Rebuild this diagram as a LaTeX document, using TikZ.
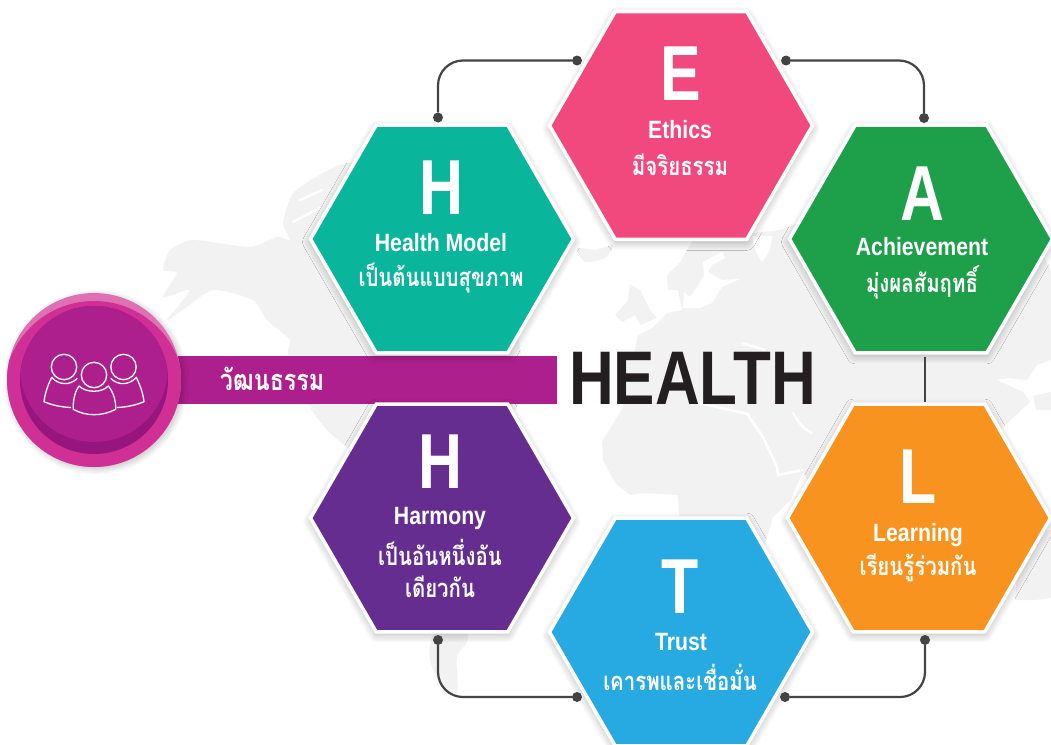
\documentclass[tikz,border=0pt]{standalone}
\usepackage{fontspec}
\setmainfont{Liberation Sans}[FakeStretch=0.85]
\newfontfamily\titlefont{Liberation Sans}[FakeStretch=0.815]
\newfontfamily\letterfont{Liberation Sans}[FakeStretch=0.78]
\newfontfamily\thaifont[Script=Thai,FakeStretch=0.8]{Loma}
\usetikzlibrary{shapes.geometric,shadows.blur}

\definecolor{mapgray}{HTML}{F2F2F2}
\definecolor{linkgray}{HTML}{434343}
\definecolor{badgerim}{HTML}{D02F95}
\definecolor{badgelight}{HTML}{E070B4}
\definecolor{badgedark}{HTML}{96167D}
\definecolor{badgetop}{HTML}{AD1F8C}
\definecolor{hexgreen}{HTML}{0AB69B}
\definecolor{hexpink}{HTML}{F1487D}
\definecolor{hexleaf}{HTML}{1EA04B}
\definecolor{hexorange}{HTML}{F7931E}
\definecolor{hexblue}{HTML}{27AAE1}
\definecolor{hexpurple}{HTML}{652D90}
\definecolor{inkblack}{HTML}{231F20}

\begin{document}
\begin{tikzpicture}[x=1pt,y=-1pt,
hexnode/.style={regular polygon, regular polygon sides=6, draw=white, line width=3.5pt, minimum size=263pt, inner sep=0pt,
  blur shadow={shadow xshift=0pt, shadow yshift=-3pt, shadow blur steps=16, shadow blur radius=8pt, shadow opacity=30}},
letternode/.style={text=white, font=\letterfont\fontsize{78}{78}\selectfont\bfseries},
wordnode/.style={text=white, font=\fontsize{25}{25}\selectfont\bfseries},
thainode/.style={text=white, font=\thaifont\fontsize{25.5}{25.5}\selectfont\bfseries},
dotnode/.style={circle, fill=linkgray, minimum size=10pt, inner sep=0pt},
linkline/.style={draw=linkgray, line width=2.2pt, rounded corners=25pt},
landpatch/.style={fill=mapgray, draw=none},
seapatch/.style={fill=white, draw=none},
sealine/.style={draw=white, line width=2.5pt, line cap=round},
iconline/.style={draw=white, line width=1.3pt, line join=round}
]
    \useasboundingbox (0,0) rectangle (1051,744);

    % world map behind everything
    \path[landpatch] plot[smooth cycle, tension=.35] coordinates {(170,250) (193,240) (250,247) (277,237) (290,240) (283,223) (293,193) (323,173) (350,163) (420,170) (500,240) (520,400) (420,500) (347,447) (327,430) (310,407) (288,356) (290,340) (267,320) (253,300) (213,290) (180,312) (167,320) (190,290) (163,297) (177,273) (163,270)};
    \draw[sealine] (300,200) -- (322,190);
    \draw[sealine] (293,222) -- (320,208);
    \path[landpatch] plot[smooth cycle, tension=.5] coordinates {(432,637) (430,660) (440,683) (457,693) (457,657) (468,637) (450,600)};
    \path[landpatch] plot[smooth cycle, tension=.4] coordinates {(577,248) (595,250) (613,245) (605,258) (585,262)};
    \path[landpatch] (630,284) -- (640,290) -- (650,310) -- (657,318) -- (640,325) -- (635,315) -- (622,322) -- (615,315) -- (628,300) -- cycle;
    \path[landpatch] (693,240) -- (780,230) -- (860,200) -- (990,160) -- (1051,270) -- (1051,360) -- (1037,365) -- (1027,380) -- (1008,378) -- (997,380) -- (1023,392) -- (1030,402) -- (1000,430) -- (1000,560) -- (850,560) -- (803,472) -- (790,500) -- (773,517) -- (760,560) -- (680,560) -- (679,515) -- (678,495) -- (643,493) -- (630,495) -- (615,483) -- (603,460) -- (602,442) -- (623,407) -- (625,360) -- (635,350) -- (638,335) -- (652,328) -- (667,313) -- (682,310) -- (678,290) -- (668,290) -- (667,275) -- (680,262) -- cycle;
    \path[landpatch] (1020,530) -- (1051,530) -- (1051,598) -- (1035,600) -- (1015,600) -- cycle;
    \path[landpatch] (1033,396) -- (1051,392) -- (1051,410) -- (1036,410) -- cycle;
    % seas
    \path[seapatch] (684,292) -- (690,297) -- (695,290) -- (704,275) -- (703,262) -- (722,252) -- (725,258) -- (712,265) -- (708,272) -- (722,280) -- (740,279) -- (722,287) -- (712,303) -- (700,308) -- (683,308) -- cycle;
    \path[seapatch] (752,236) -- (772,236) -- (770,250) -- (762,262) -- (756,252) -- cycle;
    \draw[sealine] (742,343) -- (765,350);
    \draw[sealine] (748,415) -- (763,437) -- (777,467) -- (778,475) -- (803,470);
    \draw[sealine] (793,413) .. controls (800,425) and (805,430) .. (812,433);
    \draw[sealine] (690,401) -- (735,411) -- (748,414);

    % banner and badge
    \node[fill=badgetop, minimum width=379pt, minimum height=47.5pt, inner sep=0pt] (banner) at (367.5,380){};
    \node[text=white, font=\thaifont\fontsize{29}{29}\selectfont\bfseries] (bannertext) at (272,379){วัฒนธรรม};
    \node[inkblack, font=\titlefont\fontsize{76}{76}\selectfont\bfseries] (title) at (692.5,378){HEALTH};

    \node[circle, fill=badgelight, minimum size=174pt, inner sep=0pt, blur shadow={shadow xshift=2pt, shadow yshift=-2pt, shadow blur steps=12, shadow blur radius=6pt, shadow opacity=25}] (badge) at (94,380){};
    \begin{scope}
        \clip (badge.center) circle (87);
        \fill[badgerim] (94,391) circle (90);
    \end{scope}
    \node[circle, fill=badgedark, minimum size=148pt, inner sep=0pt] (badgeinner) at (94,380){};
    \begin{scope}
        \clip (badgeinner.center) circle (74);
        \fill[badgetop] (94,368) circle (74);
    \end{scope}

    % people icon
    \draw[iconline] (77.3,378.3) .. controls (70,386) and (58,385) .. (51.7,377.3) .. controls (48,385) and (45,393) .. (44,401.7) .. controls (52,405) and (60,407) .. (71,407.5);
    \draw[iconline] (110.7,378.3) .. controls (118,386) and (130,385) .. (136.3,377.3) .. controls (140,385) and (143,393) .. (144,401.7) .. controls (136,405) and (128,407) .. (117,407.5);
    \draw[iconline] (64,367) circle (12.7);
    \draw[iconline] (123.5,367) circle (12.7);
    \draw[iconline, fill=badgetop] (79,386) .. controls (74,393) and (73,402) .. (73.3,409.3) .. controls (86,416.5) and (102,416.5) .. (115.7,409.3) .. controls (116,402) and (114,393) .. (108.3,386) .. controls (102,393) and (86,393) .. (79,386) -- cycle;
    \draw[iconline, fill=badgetop] (94,375) circle (12.7);

    % hexagons
    \node[hexnode, fill=hexpink] (ethics) at (681,125.5){};
    \node[hexnode, fill=hexgreen] (healthmodel) at (442,239){};
    \node[hexnode, fill=hexleaf] (achieve) at (921,239){};
    \node[hexnode, fill=hexpurple] (harmony) at (442,518){};
    \node[hexnode, fill=hexorange] (learning) at (919,518){};
    \node[hexnode, fill=hexblue] (trust) at (681,632){};

    % connectors
    \node[dotnode] (dotHealth) at (438,117.5){};
    \node[dotnode] (dotEthicsL) at (577,60.5){};
    \node[dotnode] (dotEthicsR) at (786,60.5){};
    \node[dotnode] (dotAchieve) at (924,118){};
    \coordinate (gapAchieve) at (925,356.5);
    \coordinate (gapLearn) at (925,401.5);
    \node[dotnode] (dotLearn) at (925,640){};
    \node[dotnode] (dotTrustR) at (785,697){};
    \node[dotnode] (dotTrustL) at (577,697){};
    \node[dotnode] (dotHarmony) at (438,640){};

    \draw[linkline] (dotHealth) |- (dotEthicsL);
    \draw[linkline] (dotAchieve) |- (dotEthicsR);
    \draw[linkline] (gapAchieve) -- (gapLearn);
    \draw[linkline] (dotLearn) |- (dotTrustR);
    \draw[linkline] (dotHarmony) |- (dotTrustL);

    \node[letternode] (ethicsA) at (681,74){E};
    \node[wordnode] (ethicsB) at (680,130){Ethics};
    \node[thainode] (ethicsC) at (680,165){มีจริยธรรม};

    \node[letternode] (healthA) at (441,188){H};
    \node[wordnode] (healthB) at (441,243){Health Model};
    \node[thainode] (healthC) at (441,278){เป็นต้นแบบสุขภาพ};

    \node[letternode] (achieveA) at (922,194){A};
    \node[wordnode] (achieveB) at (922,247){Achievement};
    \node[thainode] (achieveC) at (922,282){มุ่งผลสัมฤทธิ์};

    \node[letternode] (harmonyA) at (440,462){H};
    \node[wordnode] (harmonyB) at (440,518){Harmony};
    \node[thainode] (harmonyC) at (440,552){เป็นอันหนึ่งอัน};
    \node[thainode] (harmonyD) at (440,587){เดียวกัน};

    \node[letternode] (learningA) at (918,477){L};
    \node[wordnode] (learningB) at (918,535){Learning};
    \node[thainode] (learningC) at (918,568){เรียนรู้ร่วมกัน};

    \node[letternode] (trustA) at (680,587){T};
    \node[wordnode] (trustB) at (681,642){Trust};
    \node[thainode] (trustC) at (680,677){เคารพและเชื่อมั่น};
\end{tikzpicture}
\end{document}
